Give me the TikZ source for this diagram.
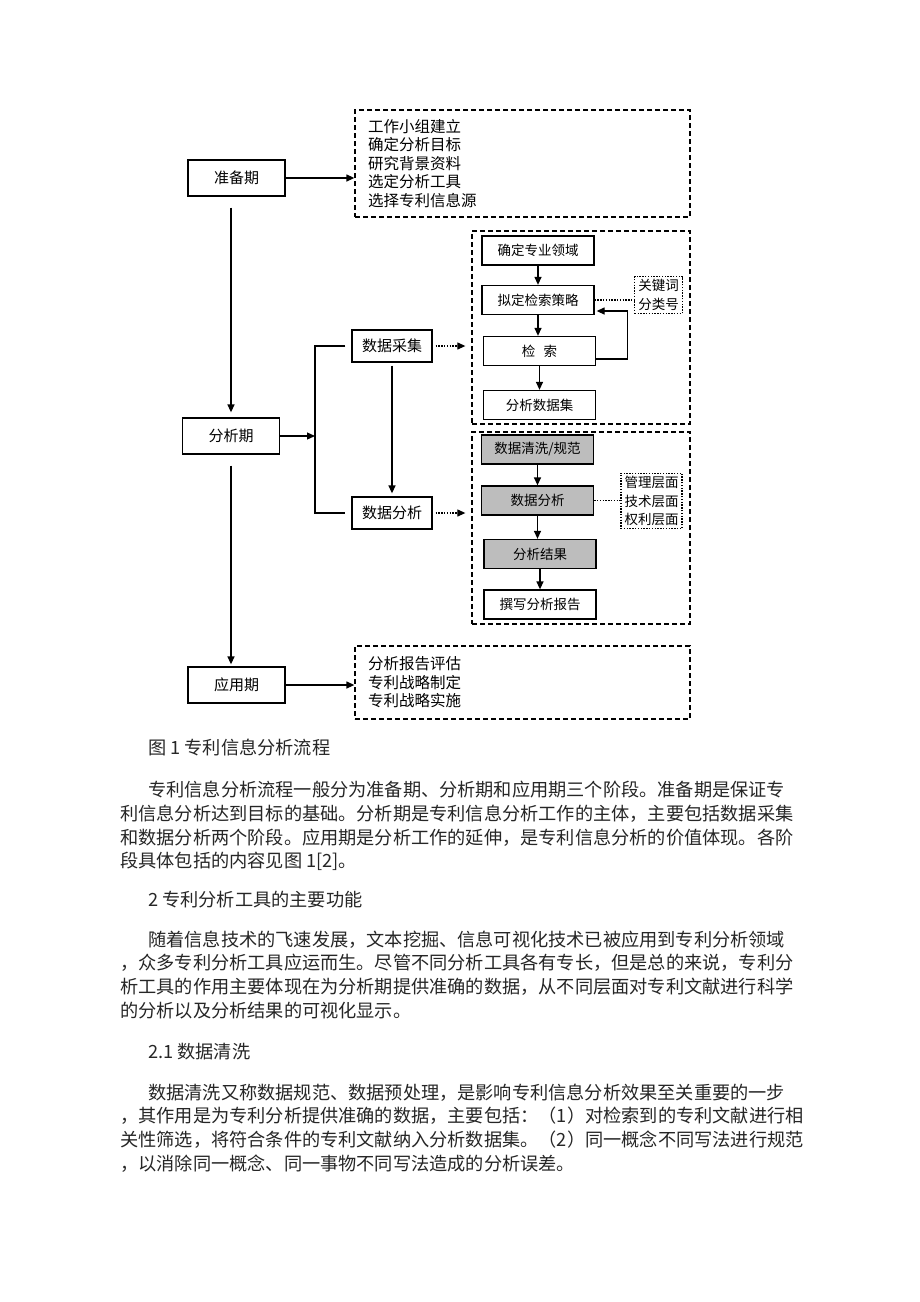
\documentclass[tikz,border=0pt]{standalone}
\usepackage{fontspec}
\newfontfamily\cjk{Noto Sans CJK SC}
\usetikzlibrary{arrows.meta}

\tikzset{
  phase/.style={draw, line width=1.3pt, minimum width=97pt, minimum height=36pt, inner sep=0pt, font=\cjk\fontsize{15}{18}\selectfont},
  part/.style={draw, line width=1.3pt, minimum width=80pt, minimum height=32pt, inner sep=0pt, font=\cjk\fontsize{15}{18}\selectfont},
  stepbox/.style={draw, line width=1.3pt, minimum width=112pt, minimum height=29pt, inner sep=0pt, font=\cjk\fontsize{13.5}{16}\selectfont},
  shaded/.style={stepbox, fill=black!26},
  group/.style={draw, line width=1.3pt, dash pattern=on 5pt off 3pt},
  listbox/.style={group, align=left, text width=309pt, inner xsep=13pt, inner ysep=0pt, font=\cjk\fontsize{15.5}{18.5}\selectfont},
  note/.style={draw, line width=1.2pt, dash pattern=on 1.4pt off 1.4pt, align=left, inner xsep=3.5pt, inner ysep=3pt, font=\cjk\fontsize{13.5}{18.5}\selectfont},
  arr/.style={-{Triangle[length=8pt,width=7pt]}, line width=1.3pt},
  dotarr/.style={-{Triangle[length=8pt,width=7pt]}, line width=1.2pt, dash pattern=on 1.4pt off 1.4pt},
  dotline/.style={line width=1.2pt, dash pattern=on 1.4pt off 1.4pt},
  body/.style={anchor=west, inner sep=0pt, text=black!85, font=\cjk\fontsize{18.2}{22}\selectfont},
}

\begin{document}
\begin{tikzpicture}[x=1pt, y=-1pt]
  \path[use as bounding box, fill=white] (0,0) rectangle (920,1302);

  % phases
  \node[phase] (zbq) at (236.5,178) {准备期};
  \node[phase] (fxq) at (231,436) {分析期};
  \node[phase] (yyq) at (236.5,685) {应用期};

  \node[listbox, minimum height=107pt] (list1) at (522.5,163.5) {工作小组建立\\确定分析目标\\研究背景资料\\选定分析工具\\选择专利信息源};
  \node[listbox, minimum height=73pt] (list4) at (522.5,682.5) {分析报告评估\\专利战略制定\\专利战略实施};

  \node[part] (cj) at (392,346) {数据采集};
  \node[part] (fx) at (392,513) {数据分析};
  \coordinate (brk) at (315,436);

  % dashed groups
  \node[group, minimum width=218pt, minimum height=193pt] (grpa) at (581,327.5) {};
  \node[group, minimum width=218pt, minimum height=192pt] (grpb) at (581,528) {};

  \node[stepbox] (b1) at (538,250.5) {确定专业领域};
  \node[stepbox] (b2) at (538,300) {拟定检索策略};
  \node[stepbox] (b3) at (539.5,351) {检\hspace{0.6em}索};
  \node[stepbox] (b4) at (539.5,405) {分析数据集};
  \node[note] (kw) at (658.5,295) {关键词\\分类号};

  \node[shaded] (b5) at (537.5,449.5) {数据清洗/规范};
  \node[shaded] (b6) at (537.5,500.5) {数据分析};
  \node[shaded] (b7) at (540,554) {分析结果};
  \node[stepbox] (b8) at (540,604.5) {撰写分析报告};
  \node[note] (lv) at (651.5,501) {管理层面\\技术层面\\权利层面};

  % connectors
  \draw[arr] (zbq.east) -- (list1.west |- zbq.east);
  \draw[arr] (yyq.east) -- (list4.west |- yyq.east);
  \draw[arr, shorten >=5pt] ([yshift=-11pt]zbq.south -| fxq.north) -- (fxq.north);
  \draw[arr, shorten >=2pt] ([yshift=-11pt]fxq.south) -- (yyq.north -| fxq.south);
  \draw[arr] (fxq.east) -- (brk);
  \draw[line width=1.3pt] ([xshift=-6pt]cj.west) -| (brk) |- ([xshift=-6pt]fx.west);
  \draw[arr, shorten >=3pt] ([yshift=-3pt]cj.south) -- (fx.north);
  \draw[dotarr, shorten <=3pt, shorten >=6pt] (cj.east) -- (grpa.west |- cj.east);
  \draw[dotarr, shorten <=3pt, shorten >=6pt] (fx.east) -- (grpb.west |- fx.east);

  \draw[arr] (b1) -- (b2);
  \draw[arr] (b2) -- (b2 |- b3.north);
  \draw[arr] (b3) -- (b3 |- b4.north);
  \draw[dotline] (b2.east) -- (kw.west |- b2.east);
  \draw[arr, shorten >=2pt] ([yshift=-8pt]b3.east) -- ++(31,0) |- ([yshift=-11pt]b2.east);

  \draw[arr] (b5) -- (b5 |- b6.north);
  \draw[arr] (b6) -- (b6 |- b7.north);
  \draw[arr] (b7) -- (b8);
  \draw[dotline] (b6.east) -- (lv.west |- b6.east);

  % text of the page
  \node[body] (cap) at (148,748) {图 1 专利信息分析流程};
  \node[body] (p1a) at (148,790) {专利信息分析流程一般分为准备期、分析期和应用期三个阶段。准备期是保证专};
  \node[body] (p1b) at (120,814) {利信息分析达到目标的基础。分析期是专利信息分析工作的主体，主要包括数据采集};
  \node[body] (p1c) at (120,838) {和数据分析两个阶段。应用期是分析工作的延伸，是专利信息分析的价值体现。各阶};
  \node[body] (p1d) at (120,861) {段具体包括的内容见图 1[2]。};
  \node[body] (h2) at (148,900) {2 专利分析工具的主要功能};
  \node[body] (p2a) at (148,940) {随着信息技术的飞速发展，文本挖掘、信息可视化技术已被应用到专利分析领域};
  \node[body] (p2b) at (120,963) {，众多专利分析工具应运而生。尽管不同分析工具各有专长，但是总的来说，专利分};
  \node[body] (p2c) at (120,987) {析工具的作用主要体现在为分析期提供准确的数据，从不同层面对专利文献进行科学};
  \node[body] (p2d) at (120,1011) {的分析以及分析结果的可视化显示。};
  \node[body] (h21) at (148,1052) {2.1 数据清洗};
  \node[body] (p3a) at (148,1093) {数据清洗又称数据规范、数据预处理，是影响专利信息分析效果至关重要的一步};
  \node[body] (p3b) at (120,1116) {，其作用是为专利分析提供准确的数据，主要包括：（1）对检索到的专利文献进行相};
  \node[body] (p3c) at (120,1140) {关性筛选，将符合条件的专利文献纳入分析数据集。（2）同一概念不同写法进行规范};
  \node[body] (p3d) at (120,1164) {，以消除同一概念、同一事物不同写法造成的分析误差。};
\end{tikzpicture}
\end{document}
